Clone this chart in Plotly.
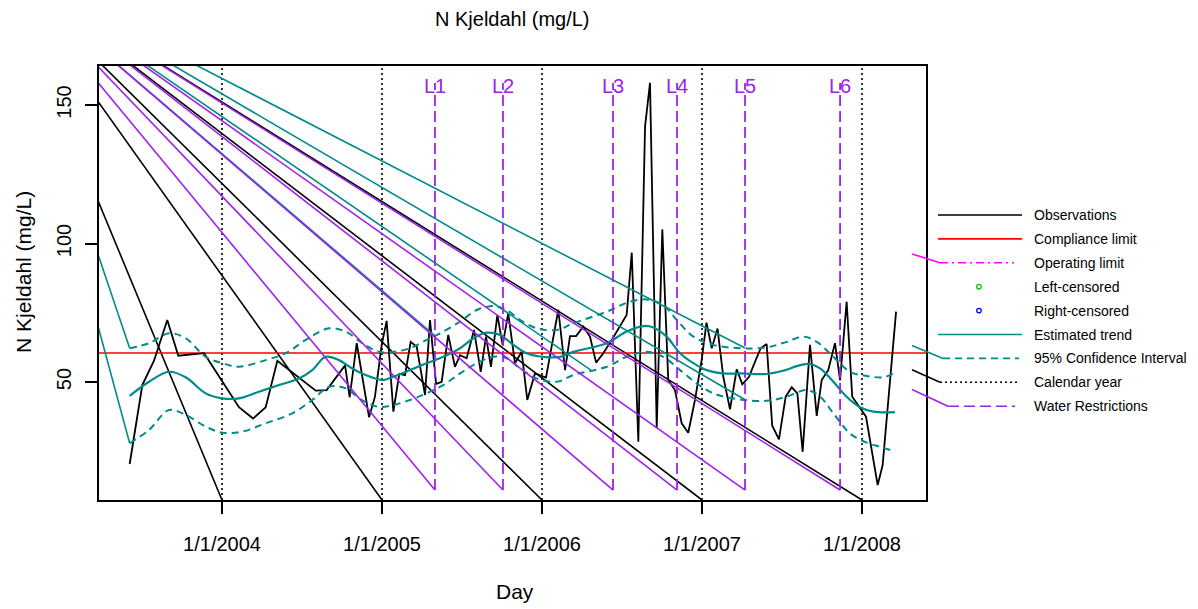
import numpy as np
import plotly.graph_objects as go

# ---------------- data ----------------
obs_year = [2003.423, 2003.502, 2003.575, 2003.658, 2003.727, 2003.856, 2003.888,
            2004.106, 2004.194, 2004.273, 2004.346, 2004.586, 2004.654, 2004.769,
            2004.798, 2004.842, 2004.919, 2004.956, 2004.998, 2005.029, 2005.071,
            2005.108, 2005.144, 2005.179, 2005.217, 2005.269, 2005.300, 2005.338,
            2005.373, 2005.414, 2005.456, 2005.488, 2005.529, 2005.575, 2005.617,
            2005.650, 2005.681, 2005.721, 2005.754, 2005.789, 2005.831, 2005.873,
            2005.908, 2005.956, 2006.025, 2006.102, 2006.144, 2006.175, 2006.213,
            2006.258, 2006.300, 2006.338, 2006.383, 2006.436, 2006.488, 2006.529,
            2006.561, 2006.602, 2006.644, 2006.675, 2006.717, 2006.752, 2006.789,
            2006.831, 2006.873, 2006.914, 2006.956, 2006.998, 2007.028, 2007.061,
            2007.097, 2007.133, 2007.175, 2007.217, 2007.252, 2007.294, 2007.331,
            2007.367, 2007.404, 2007.439, 2007.481, 2007.523, 2007.561, 2007.596,
            2007.629, 2007.675, 2007.717, 2007.748, 2007.789, 2007.831, 2007.863,
            2007.904, 2007.939, 2007.988, 2008.025, 2008.098, 2008.129, 2008.213]
obs_value = [20.4, 48.9, 57.7, 72.4, 59.5, 60.4, 60.4,
             40.9, 36.8, 40.9, 57.7, 46.9, 47.1, 56.0,
             44.5, 64.0, 37.3, 44.7, 63.4, 72.1, 39.3,
             52.9, 52.5, 64.5, 62.7, 45.3, 72.4, 49.3,
             50.1, 67.0, 55.5, 59.7, 58.6, 68.8, 53.7,
             66.4, 55.5, 74.2, 63.4, 74.8, 56.8, 60.9,
             43.5, 53.1, 51.6, 76.1, 54.3, 66.6, 66.6,
             70.0, 66.4, 57.0, 60.4, 65.2, 70.0, 74.2,
             96.7, 28.4, 142.2, 158.0, 33.3, 105.1, 50.7,
             47.1, 35.1, 31.7, 43.5, 58.0, 71.4, 62.2,
             69.3, 51.9, 40.1, 54.6, 49.2, 51.9, 57.3,
             62.2, 63.7, 34.2, 29.3, 44.7, 48.1, 45.9,
             24.8, 63.4, 37.8, 50.7, 54.3, 64.0, 50.7,
             79.0, 44.7, 40.5, 37.5, 12.8, 20.0, 75.4]

trend_year = [2003.423, 2003.544, 2003.669, 2003.773, 2003.898, 2004.002, 2004.106,
              2004.231, 2004.356, 2004.481, 2004.564, 2004.648, 2004.731, 2004.814,
              2004.898, 2005.006, 2005.071, 2005.175, 2005.279, 2005.383, 2005.488,
              2005.571, 2005.654, 2005.738, 2005.821, 2005.904, 2006.008, 2006.113,
              2006.196, 2006.404, 2006.529, 2006.633, 2006.696, 2006.779, 2006.863,
              2006.946, 2007.029, 2007.133, 2007.238, 2007.404, 2007.508, 2007.613,
              2007.675, 2007.738, 2007.821, 2007.904, 2007.988, 2008.071, 2008.206]
trend_value = [45.0, 50.1, 53.7, 51.7, 45.9, 44.1, 44.1,
               46.5, 48.9, 51.3, 54.3, 59.1, 57.9, 54.9,
               52.5, 50.7, 51.9, 54.3, 56.8, 59.1, 62.2,
               65.8, 67.8, 67.0, 63.4, 60.4, 59.1, 59.1,
               60.9, 64.0, 68.2, 70.2, 69.7, 66.4, 60.4,
               56.8, 54.3, 53.1, 53.1, 52.9, 54.1, 56.1,
               56.5, 54.9, 50.1, 44.7, 40.9, 39.3, 39.1]

ci_upper_year = [2003.423, 2003.544, 2003.669, 2003.773, 2003.898, 2004.002, 2004.106,
                 2004.273, 2004.398, 2004.523, 2004.669, 2004.773, 2004.877, 2004.981,
                 2005.071, 2005.175, 2005.279, 2005.363, 2005.488, 2005.592, 2005.696,
                 2005.779, 2005.863, 2005.967, 2006.092, 2006.196, 2006.404, 2006.550,
                 2006.654, 2006.758, 2006.842, 2006.946, 2007.071, 2007.238, 2007.404,
                 2007.529, 2007.633, 2007.717, 2007.821, 2007.925, 2008.029, 2008.133,
                 2008.196]
ci_upper_value = [62.2, 64.0, 67.6, 65.8, 59.1, 56.8, 55.5,
                  57.9, 60.4, 65.2, 69.4, 68.2, 64.0, 60.9,
                  60.9, 62.2, 65.2, 67.6, 71.8, 76.0, 77.4,
                  76.0, 72.4, 69.4, 68.8, 71.2, 75.4, 79.0,
                  79.8, 77.8, 72.4, 66.4, 63.4, 62.2, 62.5,
                  64.5, 66.4, 64.5, 59.1, 53.7, 52.2, 51.7,
                  53.1]

ci_lower_year = [2003.423, 2003.544, 2003.669, 2003.773, 2003.898, 2004.002, 2004.127,
                 2004.273, 2004.439, 2004.564, 2004.669, 2004.773, 2004.875, 2004.981,
                 2005.071, 2005.175, 2005.279, 2005.383, 2005.488, 2005.592, 2005.696,
                 2005.779, 2005.863, 2005.967, 2006.092, 2006.196, 2006.404, 2006.529,
                 2006.654, 2006.758, 2006.863, 2006.967, 2007.071, 2007.238, 2007.404,
                 2007.529, 2007.654, 2007.738, 2007.821, 2007.925, 2008.029, 2008.113,
                 2008.192]
ci_lower_value = [27.9, 32.7, 39.9, 38.1, 33.9, 31.7, 32.1,
                  35.1, 38.7, 43.5, 48.3, 47.7, 43.5, 41.0,
                  41.7, 43.5, 45.9, 48.9, 53.1, 56.8, 59.1,
                  58.6, 54.9, 51.3, 50.1, 52.5, 55.5, 59.1,
                  60.9, 59.1, 54.3, 49.5, 45.9, 43.7, 43.2,
                  44.7, 47.1, 44.7, 38.7, 31.4, 28.1, 26.6,
                  25.2]

compliance_limit = 60.5

calendar_years = [2004, 2005, 2006, 2007, 2008]
calendar_labels = ["1/1/2004", "1/1/2005", "1/1/2006", "1/1/2007", "1/1/2008"]

restriction_labels = ["L1", "L2", "L3", "L4", "L5", "L6"]
restriction_year = [2005.331, 2005.756, 2006.444, 2006.844, 2007.269, 2007.863]
restriction_low = 11.0
restriction_high = 158.0
restriction_label_level = 157.0

y_ticks = [50, 100, 150]

# common start of the stray connector strokes
ray_origin = (2002.6125, 200.9)
# extra break point on the lower band
ci_lower_break = 2006.31

# ---------------- styling ----------------
BLACK = "#000000"
RED = "#FF0000"
TEAL = "#008B8B"
PURPLE = "#A020F0"
MAGENTA = "#FF00FF"
FONT = "Liberation Sans, Arial, sans-serif"

W, H = 1198, 609
L_M, R_M, T_M, B_M = 99, 272, 66, 109
PLOT_W = W - L_M - R_M
PLOT_H = H - T_M - B_M

x_range = [2003.23125, 2008.4]
y_range = [7.4, 164.1]

fig = go.Figure()


def add_line(x, y, color, width=1.6, dash="solid", shape="linear"):
    fig.add_trace(go.Scatter(x=x, y=y, mode="lines", showlegend=False,
                             hoverinfo="skip",
                             line=dict(color=color, width=width, dash=dash,
                                       shape=shape)))


def ray_to(pt, color):
    add_line([ray_origin[0], pt[0]], [ray_origin[1], pt[1]], color)


# calendar year lines
for yr in calendar_years:
    ray_to((yr, y_range[0]), BLACK)
    add_line([yr, yr], [y_range[0], y_range[1]], BLACK, width=1.6, dash="2px,3px")

# compliance limit
add_line(x_range, [compliance_limit, compliance_limit], RED, width=1.6)

# observations
add_line(obs_year, obs_value, BLACK, width=1.8)

# estimated trend
add_line(trend_year, trend_value, TEAL, width=2.2, shape="spline")

# confidence band pieces
l1, l5 = restriction_year[0], restriction_year[4]
ray_to((ci_upper_year[0], ci_upper_value[0]), TEAL)
ray_to((ci_lower_year[0], ci_lower_value[0]), TEAL)
ray_to((l1, float(np.interp(l1, ci_upper_year, ci_upper_value))), TEAL)
ray_to((l5, float(np.interp(l5, ci_upper_year, ci_upper_value))), TEAL)
ray_to((l5, float(np.interp(l5, ci_lower_year, ci_lower_value))), TEAL)
ray_to((ci_lower_break, float(np.interp(ci_lower_break, ci_lower_year, ci_lower_value))), TEAL)
add_line(ci_upper_year, ci_upper_value, TEAL, width=2.0, dash="7px,5px", shape="spline")
add_line(ci_lower_year, ci_lower_value, TEAL, width=2.0, dash="7px,5px", shape="spline")

# water restrictions
for yr in restriction_year:
    ray_to((yr, restriction_low), PURPLE)
    add_line([yr, yr], [restriction_low, restriction_high], PURPLE, width=1.8,
             dash="11px,5px")
annotations = []
for yr, lab in zip(restriction_year, restriction_labels):
    annotations.append(dict(x=yr, y=restriction_label_level, xref="x", yref="y",
                            text=lab, showarrow=False, xanchor="center",
                            yanchor="middle",
                            font=dict(family=FONT, size=20, color=PURPLE)))


# ---------------- manual legend (pixel layout) ----------------
def px(x):
    return (x - L_M) / PLOT_W


def py(y):
    return (H - B_M - y) / PLOT_H


ox = L_M + (ray_origin[0] - x_range[0]) / (x_range[1] - x_range[0]) * PLOT_W
oy = (H - B_M) - (ray_origin[1] - y_range[0]) / (y_range[1] - y_range[0]) * PLOT_H
CLIP_X = 912

shapes = []


def seg(x0, y0, x1, y1, color, width=1.6, dash="solid"):
    shapes.append(dict(type="line", xref="paper", yref="paper",
                       x0=px(x0), y0=py(y0), x1=px(x1), y1=py(y1),
                       line=dict(color=color, width=width, dash=dash)))


legend_rows = ["Observations", "Compliance limit", "Operating limit",
               "Left-censored", "Right-censored", "Estimated trend",
               "95% Confidence Interval", "Calendar year", "Water Restrictions"]
row_y0, row_step = 215.0, 23.9
text_x = 1032
for i, lab in enumerate(legend_rows):
    ry = row_y0 + i * row_step
    annotations.append(dict(x=px(text_x), y=py(ry), xref="paper", yref="paper",
                            text=lab, showarrow=False, xanchor="left",
                            yanchor="middle",
                            font=dict(family=FONT, size=14, color=BLACK)))


def legend_stroke(row, x0, x1, color, dash, width=1.6, with_ray=False):
    ry = row_y0 + row * row_step
    if with_ray:
        ty = oy + (ry - oy) * (CLIP_X - ox) / (x0 - ox)
        seg(CLIP_X, ty, x0, ry, color, width)
    seg(x0, ry, x1, ry, color, width, dash)


legend_stroke(0, 938, 1022, BLACK, "solid")
legend_stroke(1, 938, 1022, RED, "solid")
legend_stroke(2, 940, 1014, MAGENTA, "8px,4px,2px,4px", with_ray=True)
legend_stroke(5, 938, 1022, TEAL, "solid")
legend_stroke(6, 943, 1019, TEAL, "7px,5px", with_ray=True)
legend_stroke(7, 940, 1020, BLACK, "2px,3px", with_ray=True)
legend_stroke(8, 948, 1015, PURPLE, "11px,5px", with_ray=True)

for row, col in [(3, "#00CD00"), (4, "#0000FF")]:
    ry = row_y0 + row * row_step
    cx, r = 979, 2.3
    shapes.append(dict(type="circle", xref="paper", yref="paper",
                       x0=px(cx - r), x1=px(cx + r), y0=py(ry + r), y1=py(ry - r),
                       line=dict(color=col, width=1.3)))

# titles
annotations.append(dict(x=px(512.5), y=py(19), xref="paper", yref="paper",
                        text="N Kjeldahl (mg/L)", showarrow=False,
                        xanchor="center", yanchor="middle",
                        font=dict(family=FONT, size=20, color=BLACK)))
annotations.append(dict(x=px(515), y=py(591), xref="paper", yref="paper",
                        text="Day", showarrow=False,
                        xanchor="center", yanchor="middle",
                        font=dict(family=FONT, size=21, color=BLACK)))
annotations.append(dict(x=px(23), y=py(272), xref="paper", yref="paper",
                        text="N Kjeldahl (mg/L)", showarrow=False, textangle=-90,
                        xanchor="center", yanchor="middle",
                        font=dict(family=FONT, size=21, color=BLACK)))

axis_common = dict(showgrid=False, zeroline=False, showline=True, mirror=True,
                   linecolor=BLACK, linewidth=2, ticks="outside", ticklen=12,
                   tickwidth=2, tickcolor=BLACK,
                   tickfont=dict(family=FONT, size=20, color=BLACK))

fig.update_layout(
    width=W, height=H,
    margin=dict(l=L_M, r=R_M, t=T_M, b=B_M),
    paper_bgcolor="white", plot_bgcolor="white",
    showlegend=False,
    xaxis=dict(range=x_range, tickvals=calendar_years, ticktext=calendar_labels,
               ticklabelstandoff=13, **axis_common),
    yaxis=dict(range=y_range, tickvals=y_ticks, ticktext=[str(v) for v in y_ticks],
               tickangle=-90, ticklabelstandoff=6, **axis_common),
    shapes=shapes,
    annotations=annotations,
)

fig.write_html("out.html")
